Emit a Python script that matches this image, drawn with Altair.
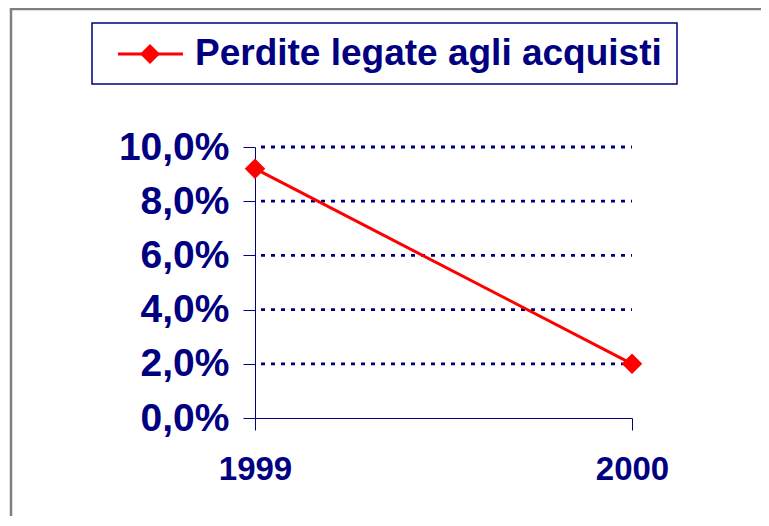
import altair as alt
import pandas as pd

# ---- data ----
years = [1999, 2000]
losses = [0.092, 0.020]
series_name = "Perdite legate agli acquisti"
y_ticks = [0.0, 0.02, 0.04, 0.06, 0.08, 0.10]
grid_values = [0.02, 0.04, 0.06, 0.08, 0.10]

NAVY = "#000080"
RED = "#FF0000"
GRAY = "#808080"
FONT = "Liberation Sans"
W, H = 377, 271

df = pd.DataFrame({"year": years, "loss": losses})
grid_df = pd.DataFrame({"g": grid_values})
legend_df = pd.DataFrame({"label": [series_name]})

x_scale = alt.Scale(domain=[1999, 2000], nice=False, zero=False)
y_scale = alt.Scale(domain=[0, 0.10], nice=False)

x_axis = alt.Axis(
    values=years, format="d", title=None, grid=False,
    domainColor=NAVY, domainWidth=1, tickColor=NAVY, tickWidth=1, tickSize=12,
    labelFont=FONT, labelFontSize=33, labelFontWeight="bold", labelColor=NAVY,
    labelPadding=23, labelFlush=False, labelOverlap=False,
)
y_axis = alt.Axis(
    values=y_ticks, title=None, grid=False,
    labelExpr="replace(format(datum.value, '.1%'), '.', ',')",
    domainColor=NAVY, domainWidth=1, tickColor=NAVY, tickWidth=1, tickSize=12,
    labelFont=FONT, labelFontSize=39, labelFontWeight="bold", labelColor=NAVY,
    labelPadding=14, labelFlush=False, labelOverlap=False,
)

base = alt.Chart(df).encode(
    x=alt.X("year:Q", scale=x_scale, axis=x_axis),
    y=alt.Y("loss:Q", scale=y_scale, axis=y_axis),
)

grid = alt.Chart(grid_df).mark_rule(
    color=NAVY, strokeWidth=2.8, strokeDash=[4, 6], strokeCap="butt"
).encode(
    y=alt.Y("g:Q", scale=y_scale, axis=y_axis),
    x=alt.value(6), x2=alt.value(W),
)

line = base.mark_line(color=RED, strokeWidth=3)
points = base.mark_point(shape="diamond", filled=True, size=420, color=RED, opacity=1)

# ---- legend (decoration) ----
leg_box = alt.Chart(legend_df).mark_rect(fill="white", stroke=NAVY, strokeWidth=1.5).encode(
    x=alt.value(-163), x2=alt.value(422), y=alt.value(-124), y2=alt.value(-63)
)
leg_line = alt.Chart(legend_df).mark_rule(color=RED, strokeWidth=3).encode(
    x=alt.value(-137), x2=alt.value(-72), y=alt.value(-93)
)
leg_pt = alt.Chart(legend_df).mark_point(shape="diamond", filled=True, size=400, color=RED, opacity=1).encode(
    x=alt.value(-105), y=alt.value(-93)
)
leg_text = alt.Chart(legend_df).mark_text(
    align="left", baseline="middle", font=FONT, fontSize=37, fontWeight="bold", color=NAVY
).encode(x=alt.value(-60), y=alt.value(-93), text="label:N")

# ---- outer frame (decoration) ----
frame_top = alt.Chart(legend_df).mark_rule(color=GRAY, strokeWidth=2.5).encode(
    x=alt.value(-245), x2=alt.value(520), y=alt.value(-138)
)
frame_left = alt.Chart(legend_df).mark_rule(color=GRAY, strokeWidth=2.5).encode(
    x=alt.value(-244), y=alt.value(-139), y2=alt.value(380)
)

chart = alt.layer(
    frame_top, frame_left, grid, line, points, leg_box, leg_line, leg_pt, leg_text
).properties(
    width=W, height=H,
    autosize=alt.AutoSizeParams(type="none"),
    padding={"left": 247, "top": 139, "right": 129, "bottom": 98},
    background="white",
).configure_view(stroke=None)

chart.save("out.html", embed_options={"renderer": "svg", "actions": False})
